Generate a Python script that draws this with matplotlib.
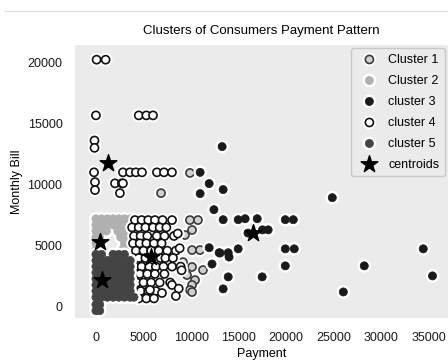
import matplotlib
matplotlib.use("Agg")
import matplotlib.pyplot as plt
import matplotlib.patheffects as pe
from matplotlib.lines import Line2D

plt.rcParams['font.family'] = ['Liberation Sans', 'DejaVu Sans']

# Cluster 1: ring markers with light fill
c1_x = [6840, 9880, 9880, 10720, 10100, 9360, 10100, 10940, 9150, 10100,
        11250, 9570, 10410, 10100, 9880, 10100]
c1_y = [9300, 10950, 7100, 7100, 6290, 5880, 4650, 4650, 3670, 3270,
        3020, 2610, 2200, 1800, 1390, 1220]

# Cluster 2: light grey block
c2_x = [0, 600, 1200, 1800, 2400, 3000, 3600,
        0, 600, 1200, 1800, 2400, 3000, 3600,
        0, 500, 1100, 2300, 2900, 3500,
        0, 400, 2600, 3200, 3800,
        0, 500, 3000, 3600,
        0, 300, 2800, 3500]
c2_y = [7200, 7200, 7200, 7200, 7200, 7200, 7200,
        6700, 6700, 6700, 6700, 6700, 6700, 6700,
        6200, 6200, 6200, 6200, 6200, 6200,
        5700, 5700, 5700, 5700, 5700,
        5200, 5200, 5200, 5200,
        4700, 4700, 4700, 4700]

# Cluster 3: high payment customers
c3_x = [13260, 10950, 11900, 10950, 13370, 12400, 13370, 14950, 15680, 16950,
        19900, 20740, 15980, 17500, 18100, 24840, 19900, 20840, 19900, 17470,
        13900, 13370, 26000, 28200, 34400, 35370, 11900, 12950, 13900, 14950,
        12200, 13040, 13990]
c3_y = [13100, 11000, 10080, 9260, 9590, 7950, 7130, 7130, 7210, 7210,
        7130, 7130, 6040, 6300, 6300, 8930, 4750, 4750, 3360, 2460,
        2460, 1480, 1230, 3360, 4750, 2540, 4840, 4430, 4430, 4750,
        3510, 4410, 4080]

# Cluster 4: open rings (high bill group and mid payment group)
c4_x = [70, 1020, 0, 4500, 5300, 6000, -150, -150,
        -200, 2840, 3580, 4200, 4840, 6410, 7150, 7990,
        -100, -100, 2000, 2730, 2840, 2520,
        4100, 4800, 5500, 6200, 7000, 8000,
        3800, 4500, 5200, 6000, 6700, 7400,
        4000, 4700, 5400, 6400, 7200, 8200,
        3900, 4600, 5300, 6100, 6900,
        4200, 5000, 5800, 6600, 7500, 8400,
        3900, 4500, 5200, 6800, 7300, 8100,
        4100, 4800, 5600, 6300, 7100, 8000, 8900,
        3900, 4600, 5400, 6200, 7200,
        4300, 5000, 5800, 6700, 7800,
        4000, 4700, 5500, 6300,
        4500, 5300, 6100,
        5680, 6940, 7990, 8600, 8800, 9000, 8700, 8400]
c4_y = [20200, 20200, 15650, 15650, 15650, 15650, 13600, 13000,
        11000, 11000, 11000, 11000, 11000, 11000, 11000, 11000,
        10200, 9550, 10100, 10100, 10100, 9300,
        7100, 7100, 7100, 7100, 7100, 7100,
        6500, 6500, 6500, 6500, 6500, 6500,
        5800, 5800, 5800, 5800, 5800, 5800,
        5200, 5200, 5200, 5200, 5200,
        4600, 4600, 4600, 4600, 4600, 4600,
        4000, 4000, 4000, 4000, 4000, 4000,
        3300, 3300, 3300, 3300, 3300, 3300, 3300,
        2700, 2700, 2700, 2700, 2700,
        2000, 2000, 2000, 2000, 2000,
        1300, 1300, 1300, 1300,
        700, 700, 700,
        1390, 1140, 1800, 6000, 4800, 3000, 1500, 900]

# Cluster 5: low payment, low bill block
c5_x = [0, 600, 1800, 2400, 3000,
        0, 600, 1200, 1800, 2400, 3000, 3600,
        0, 600, 1200, 1800, 2400, 3000, 3600,
        0, 600, 1200, 1800, 2400, 3000, 3600,
        0, 600, 1200, 1800, 2400, 3000, 3600,
        0, 600, 1200, 1800, 2400, 3000, 3600,
        0, 600, 1200, 1800, 2400, 3000, 3600,
        0, 600, 1200, 1800, 2400, 3000, 3600, 4000,
        0, 400, 0, 400]
c5_y = [4300, 4300, 4300, 4300, 4300,
        3800, 3800, 3800, 3800, 3800, 3800, 3800,
        3300, 3300, 3300, 3300, 3300, 3300, 3300,
        2800, 2800, 2800, 2800, 2800, 2800, 2800,
        2300, 2300, 2300, 2300, 2300, 2300, 2300,
        1800, 1800, 1800, 1800, 1800, 1800, 1800,
        1300, 1300, 1300, 1300, 1300, 1300, 1300,
        800, 800, 800, 800, 800, 800, 800, 800,
        200, 200, -300, -300]

cent_x = [1260, 400, 600, 5750, 16500]
cent_y = [11750, 5300, 2200, 4060, 6040]

x_ticks = [0, 5000, 10000, 15000, 20000, 25000, 30000, 35000]
y_ticks = [0, 5000, 10000, 15000, 20000]

halo = [pe.Stroke(linewidth=4, foreground='white'), pe.Normal()]

fig = plt.figure(figsize=(4.48, 3.62), dpi=100)
ax = fig.add_axes([0.1674, 0.1215, 0.8326, 0.7542])
ax.set_facecolor('#ebebeb')
for s in ax.spines.values():
    s.set_visible(False)

ax.scatter(c1_x, c1_y, s=34, facecolor='#d0d0d0', edgecolor='#3a3a3a',
           linewidths=1.2, label='Cluster 1', path_effects=halo)
ax.scatter(c2_x, c2_y, s=34, color='#b0b0b0', linewidths=0.5,
           label='Cluster 2', path_effects=halo)
ax.scatter(c3_x, c3_y, s=34, color='#1a1a1a', linewidths=0.5,
           label='cluster 3', path_effects=halo)
ax.scatter(c4_x, c4_y, s=34, facecolor='white', edgecolor='#111111',
           linewidths=1.2, label='cluster 4', path_effects=halo)
ax.scatter(c5_x, c5_y, s=34, color='#444444', linewidths=0.5,
           label='cluster 5', path_effects=halo)
ax.scatter(cent_x, cent_y, s=160, marker='*', color='black', label='centroids')

ax.set_xlim(-2200, 37000)
ax.set_ylim(-900, 21400)
ax.set_xticks(x_ticks)
ax.set_yticks(y_ticks)
ax.tick_params(length=0, labelsize=9, colors='#1a1a1a')
ax.tick_params(axis='x', pad=10)
ax.tick_params(axis='y', pad=9)

ax.set_title('Clusters of Consumers Payment Pattern', fontsize=9.5, pad=8)
ax.set_xlabel('Payment', fontsize=9, labelpad=3)
ax.set_ylabel('Monthly Bill', fontsize=9, labelpad=3)

leg = ax.legend(loc='upper right', fontsize=9, frameon=True, fancybox=True,
                facecolor='#ebebeb', edgecolor='#c8c8c8', framealpha=1,
                labelspacing=0.72, handletextpad=0.5, borderaxespad=0.25,
                borderpad=0.45, markerscale=1.0)

# thin rule across the top of the figure
fig.add_artist(Line2D([0.01, 1.0], [1 - 11 / 362] * 2, color='#dddddd', lw=0.8))

fig.savefig('out.png', dpi=100)
